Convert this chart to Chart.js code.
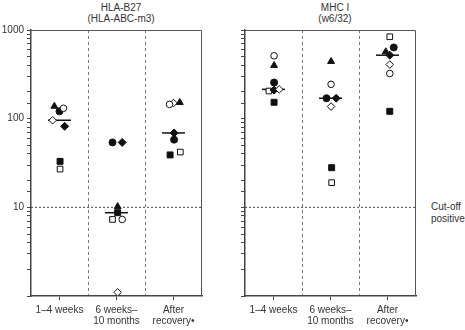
<!DOCTYPE html>
<html>
<head>
<meta charset="utf-8">
<script src="https://cdn.jsdelivr.net/npm/chart.js@4.4.0/dist/chart.umd.min.js"></script>
<style>
  body { margin: 0; background: #fff; }
  #wrap { position: relative; width: 465px; height: 330px; color: #333;
          font-family: "Liberation Sans Narrow", "Arial Narrow", Arial, sans-serif; }
  canvas { position: absolute; top: 0; }
  .title { position: absolute; top: 2px; width: 180px; text-align: center; font-size: 10px; line-height: 11px; }
  .note { position: absolute; left: 431px; top: 201px; font-size: 10px; line-height: 12px; }
</style>
</head>
<body>
<div id="wrap">
  <div class="title" style="left:31px">HLA-B27<br>(HLA-ABC-m3)</div>
  <div class="title" style="left:245px">MHC I<br>(w6/32)</div>
  <canvas id="b27Chart" width="215" height="330" style="left:0"></canvas>
  <canvas id="mhcChart" width="215" height="330" style="left:214px"></canvas>
  <div class="note">Cut-off<br>positive</div>
</div>
<script>
'use strict';

// Categorias (eixo x)
const categories = ['1–4 weeks', ['6 weeks–', '10 months'], ['After', 'recovery•']];
const yTickLabels = [10, 100, 1000];
const cutOff = 10;

// HLA-B27 (HLA-ABC-m3) - um array por paciente/símbolo
const b27Triangle = [138, 10.2, 152];
const b27OpenCircle = [131, 7.3, 145];
const b27Circle = [121, 54, 58];
const b27OpenDiamond = [96, 1.1, 150];
const b27Diamond = [82, 54, 69];
const b27Square = [33, 8.7, 39];
const b27OpenSquare = [27, 7.3, 42];

// MHC I (w6/32)
const mhcTriangle = [398, 442, 568];
const mhcOpenCircle = [511, 244, 323];
const mhcCircle = [256, 170, 636];
const mhcOpenDiamond = [214, 137, 408];
const mhcDiamond = [210, 170, 520];
const mhcSquare = [153, 28, 121];
const mhcOpenSquare = [205, 19, 839];

// Estilo dos símbolos (mesma ordem das séries)
const symbols = [
  { style: 'triangle', filled: true, r: 4 },
  { style: 'circle', filled: false, r: 3.3 },
  { style: 'circle', filled: true, r: 3.5 },
  { style: 'rectRot', filled: false, r: 3.8 },
  { style: 'rectRot', filled: true, r: 4 },
  { style: 'rect', filled: true, r: 4.2 },
  { style: 'rect', filled: false, r: 4 }
];

// Deslocamento horizontal dos pontos (fração da largura da categoria)
const b27Jitter = [
  [-0.09, 0.02, 0.11],
  [0.07, 0.10, -0.07],
  [0, -0.07, 0.01],
  [-0.12, 0.02, 0],
  [0.09, 0.10, 0.01],
  [0.01, 0.02, -0.06],
  [0.01, -0.07, 0.12]
];
const mhcJitter = [
  [0.01, 0.01, -0.03],
  [0.01, 0.01, 0.04],
  [0.01, -0.07, 0.11],
  [0.10, 0.01, 0.04],
  [0.01, 0.10, 0.04],
  [0.01, 0.02, 0.04],
  [-0.08, 0.02, 0.04]
];

const fontFamily = '"Liberation Sans Narrow", "Arial Narrow", Arial, sans-serif';

function median(values) {
  const s = values.slice().sort((a, b) => a - b);
  return s[Math.floor(s.length / 2)];
}

// Moldura do painel
const framePlugin = {
  id: 'frame',
  afterDraw(chart) {
    const { ctx, chartArea: a } = chart;
    ctx.save();
    ctx.strokeStyle = '#555';
    ctx.lineWidth = 1;
    ctx.beginPath();
    ctx.moveTo(a.left, a.top + 0.5);
    ctx.lineTo(a.right - 0.5, a.top + 0.5);
    ctx.lineTo(a.right - 0.5, a.bottom);
    ctx.stroke();
    ctx.restore();
  }
};

function renderPanel(canvasId, series, jitter, showYLabels) {
  const ctx = document.getElementById(canvasId).getContext('2d');

  const pointSets = series.map((values, p) => ({
    type: 'scatter',
    data: values.map((v, i) => ({ x: i + 1 + jitter[p][i], y: v })),
    pointStyle: symbols[p].style,
    pointRadius: symbols[p].r,
    backgroundColor: symbols[p].filled ? '#111' : '#fff',
    borderColor: '#111',
    borderWidth: 1
  }));

  const medians = categories.map((c, i) => ({ x: i + 1, y: median(series.map(s => s[i])) }));

  new Chart(ctx, {
    type: 'scatter',
    data: {
      datasets: pointSets.concat([
        {
          type: 'scatter',
          data: medians,
          pointStyle: 'line',
          pointRadius: 11.5,
          borderColor: '#111',
          borderWidth: 1.5
        },
        {
          type: 'line',
          data: [{ x: 0.5, y: cutOff }, { x: 3.5, y: cutOff }],
          borderColor: '#444',
          borderWidth: 1,
          borderDash: [2, 2],
          pointRadius: 0
        }
      ])
    },
    options: {
      responsive: false,
      animation: false,
      events: [],
      layout: { padding: { top: 30, right: 4, left: 0, bottom: 0 } },
      plugins: { legend: { display: false }, tooltip: { enabled: false } },
      scales: {
        x: {
          type: 'linear',
          min: 0.5,
          max: 3.5,
          afterBuildTicks: scale => {
            scale.ticks = [1, 1.5, 2, 2.5, 3].map(v => ({ value: v }));
          },
          afterFit: scale => { scale.height = 34; },
          ticks: {
            autoSkip: false,
            maxRotation: 0,
            padding: 5,
            color: '#333',
            font: { family: fontFamily, size: 10, lineHeight: 1.1 },
            callback: value => (Number.isInteger(value) ? categories[value - 1] : '')
          },
          grid: {
            drawOnChartArea: true,
            color: c => (c.tick && !Number.isInteger(c.tick.value) ? '#777' : 'rgba(0,0,0,0)'),
            tickColor: c => (c.tick && Number.isInteger(c.tick.value) ? '#444' : 'rgba(0,0,0,0)'),
            tickLength: 4,
            lineWidth: 1
          },
          border: { color: '#444', width: 1.5, dash: [3, 3] }
        },
        y: {
          type: 'logarithmic',
          min: 1,
          max: 1000,
          afterFit: scale => { scale.width = 31; },
          ticks: {
            autoSkip: false,
            padding: 3,
            color: '#333',
            font: { family: fontFamily, size: 10 },
            callback: value => (showYLabels && yTickLabels.includes(value) ? String(value) : '')
          },
          grid: {
            drawOnChartArea: false,
            tickLength: 4,
            tickColor: '#444'
          },
          border: { color: '#444', width: 1.5 }
        }
      }
    },
    plugins: [framePlugin]
  });
}

renderPanel('b27Chart',
  [b27Triangle, b27OpenCircle, b27Circle, b27OpenDiamond, b27Diamond, b27Square, b27OpenSquare],
  b27Jitter, true);
renderPanel('mhcChart',
  [mhcTriangle, mhcOpenCircle, mhcCircle, mhcOpenDiamond, mhcDiamond, mhcSquare, mhcOpenSquare],
  mhcJitter, false);
</script>
</body>
</html>
